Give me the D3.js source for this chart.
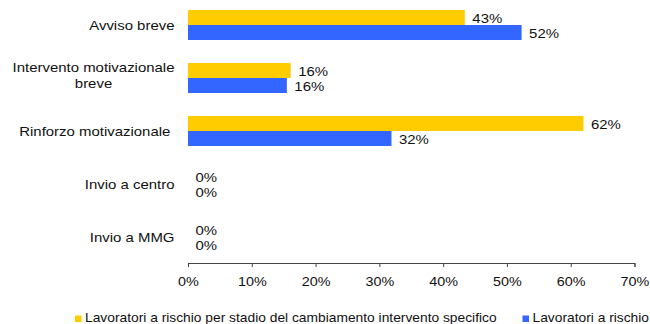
<!DOCTYPE html>
<html>
<head>
<meta charset="utf-8">
<script src="https://cdn.jsdelivr.net/npm/d3@7"></script>
<style>
  html, body { margin: 0; padding: 0; background: #fff; }
  svg { display: block; font-family: "Liberation Sans", Arial, sans-serif; }
  text { white-space: pre; }
</style>
</head>
<body>
<svg id="chart" width="650" height="324"></svg>
<script>
// Categories, top to bottom
const categories = [
  ["Avviso breve"],
  ["Intervento motivazionale", "breve"],
  ["Rinforzo motivazionale "],
  ["Invio a centro"],
  ["Invio a MMG"]
];
const seriesNames = [
  "Lavoratori a rischio per stadio del cambiamento intervento specifico",
  "Lavoratori a rischio"
];
const seriesColors = ["#FFCC00", "#3366FF"];
// Percent values per series (labels show them rounded)
const specificValues = [43.4, 16.1, 62, 0, 0];
const riskValues = [52.3, 15.5, 31.9, 0, 0];
const xTicks = [0, 10, 20, 30, 40, 50, 60, 70];

const series = [specificValues, riskValues];
const pct = v => d3.format(".0f")(v) + "%";
const SX = 1.15;           // horizontal stretch of the lettering
const svg = d3.select("#chart");

const x = d3.scaleLinear().domain([0, 70]).range([188, 634.5]);
const y = d3.scaleBand()
  .domain(categories.map((d, i) => i))
  .range([-1.5, 263.5])
  .paddingInner(0.434)
  .paddingOuter(0.217);
const ySeries = d3.scaleBand().domain([0, 1]).range([0, y.bandwidth()]);

// Bars and value labels
series.forEach((vals, s) => {
  const g = svg.append("g");
  g.selectAll("rect").data(vals).join("rect")
    .attr("x", x(0))
    .attr("y", (d, i) => y(i) + ySeries(s))
    .attr("width", d => x(d) - x(0))
    .attr("height", ySeries.bandwidth())
    .attr("fill", seriesColors[s]);
  g.selectAll("text").data(vals).join("text")
    .attr("transform", (d, i) =>
      `translate(${x(d) + 7.5},${y(i) + ySeries(s) + ySeries.bandwidth() / 2 + 1}) scale(${SX},1)`)
    .attr("dy", "0.36em")
    .attr("font-size", 13)
    .attr("fill", "#111")
    .text(d => pct(d));
});

// Category labels, right aligned; multi-line labels centred as a block
const labelRight = 174.5;
categories.forEach((lines, i) => {
  const lh = 16;
  const lift = lines.length > 1 ? 2.3 : 0;
  const cy = y(i) + y.bandwidth() / 2 - lift;
  const t = svg.append("text")
    .attr("transform", `translate(${labelRight},${cy}) scale(${SX},1)`)
    .attr("font-size", 13)
    .attr("fill", "#111");
  const spans = lines.map((line, k) => t.append("tspan")
    .attr("y", (k - (lines.length - 1) / 2) * lh)
    .attr("dy", "0.36em")
    .text(line));
  const widths = spans.map(sp => sp.node().getComputedTextLength());
  const maxW = Math.max(...widths);
  spans.forEach((sp, k) => {
    sp.attr("x", -maxW / 2 - widths[k] / 2);
  });
});

// X axis
const axis = svg.append("g")
  .attr("transform", "translate(0,263)")
  .call(d3.axisBottom(x).tickValues(xTicks).tickFormat(d => d + "%")
    .tickSizeInner(4).tickSizeOuter(4).tickPadding(10.5));
axis.select(".domain").attr("stroke", "#444");
axis.selectAll(".tick line").attr("stroke", "#444");
axis.selectAll(".tick text")
  .attr("font-size", 12.5)
  .attr("font-family", "Liberation Sans, Arial, sans-serif")
  .attr("fill", "#111")
  .attr("transform", `scale(${SX},1)`);

// Legend
const legendItems = [{x: 75}, {x: 522.5}];
legendItems.forEach((it, s) => {
  svg.append("rect")
    .attr("x", it.x).attr("y", 315.5)
    .attr("width", 6.5).attr("height", 6.5)
    .attr("fill", seriesColors[s]);
  svg.append("text")
    .attr("transform", `translate(${it.x + 10},322) scale(${SX},1)`)
    .attr("font-size", 12)
    .attr("fill", "#111")
    .text(seriesNames[s]);
});
</script>
</body>
</html>
